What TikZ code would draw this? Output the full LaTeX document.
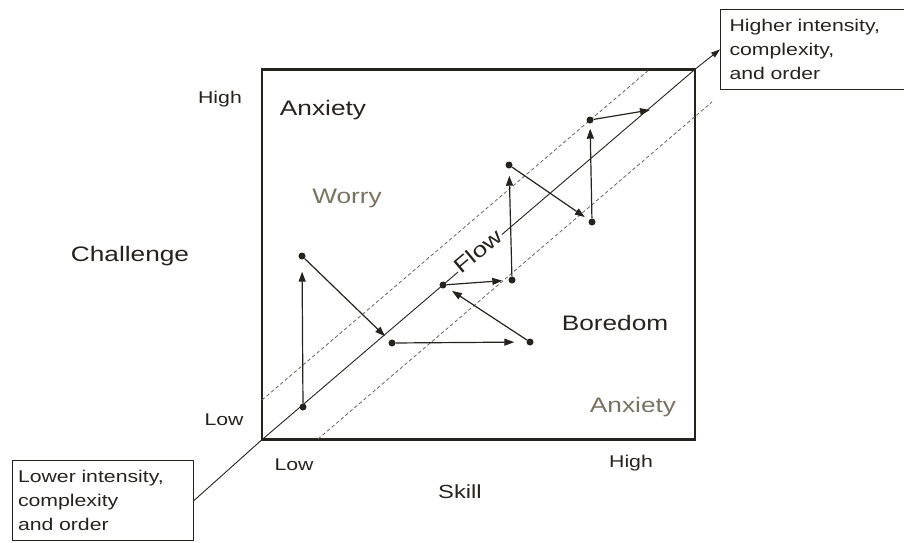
\documentclass[tikz,border=0pt]{standalone}
\usepackage{fontspec}
\setmainfont{Liberation Sans}[FakeStretch=1.25]
\usepackage{tikz}
\usetikzlibrary{positioning,arrows.meta,calc}
\usepackage{xcolor}
\definecolor{ink}{RGB}{38,35,30}
\definecolor{softink}{RGB}{122,114,98}

\begin{document}
\begin{tikzpicture}[
    x=1pt, y=-1pt,
    lbl/.style={font=\fontsize{#1}{#1}\selectfont, text=ink, inner sep=0pt, anchor=base},
    lbl/.default={21},
    zone/.style={font=\fontsize{21}{21}\selectfont, text=#1, inner sep=0pt, anchor=base},
    zone/.default={ink},
    notebox/.style={draw=ink, line width=1pt, align=left, font=\fontsize{17}{24}\selectfont, text=ink, inner sep=5pt, anchor=north west},
    dot/.style={circle, fill=ink, inner sep=0pt, minimum size=7pt},
    arr/.style={-{Triangle[length=10pt,width=7pt]}, draw=ink, line width=1.2pt, shorten >=#1},
    arr/.default={0pt},
    band/.style={draw=ink!70, line width=0.8pt, dash pattern=on 3.5pt off 2.5pt},
]
\useasboundingbox (0,0) rectangle (904,542);

\node[draw=ink, line width=2.4pt, minimum width=433pt, minimum height=370pt, inner sep=0pt] (frame) at (478.5,254.5) {};

% boxes at both ends of the channel
\node[notebox, minimum width=181pt, minimum height=80pt, text width=170pt] (lowbox) at (12,460) {Lower intensity,\\complexity\\and order};
\node[notebox, minimum width=178pt, minimum height=80pt, text width=166pt, inner xsep=9pt] (highbox) at (720,9) {Higher intensity,\\complexity,\\and order};

% axis labels
\node[lbl=17] (chigh) at (220,103) {High};
\node[lbl=17] (clow) at (224,425) {Low};
\node[lbl] (challenge) at (130,261) {Challenge};
\node[lbl=17] (slow) at (294,470) {Low};
\node[lbl=17] (shigh) at (631,467) {High};
\node[lbl=19] (skill) at (460,498) {Skill};

% zones
\node[zone] (anxtop) at (323,115) {Anxiety};
\node[zone=softink] (worry) at (347,203) {Worry};
\node[zone] (boredom) at (615,330) {Boredom};
\node[zone=softink] (anxlow) at (633,412) {Anxiety};

% ===== CHANNEL =====
\coordinate (ua) at (262,400);
\coordinate (ub) at (650,69);
\coordinate (la) at (318,439);
\coordinate (lb) at (712,102);
\draw[band] (ua) -- (ub);
\draw[band] (la) -- (lb);
\draw[-{Triangle[length=9pt,width=6pt]}, draw=ink, line width=0.9pt] (lowbox.east) -- (frame.south west) -- (frame.north east) -- (highbox.west);
\node[font=\fontsize{21}{21}\selectfont, text=ink, rotate=40, fill=white, inner sep=1pt] (flow) at (478,251) {Flow};

% ===== PATH =====
\node[dot] (p1) at (303,407) {};
\node[dot] (p2) at (302,256) {};
\node[dot] (p3) at (392,343) {};
\node[dot] (p4) at (530,342) {};
\node[dot] (p5) at (443,285) {};
\node[dot] (p6) at (512,280) {};
\node[dot] (p7) at (509,165) {};
\node[dot] (p8) at (592,222) {};
\node[dot] (p9) at (590,120) {};
\coordinate (pend) at (650,110);

\draw[arr=12pt] (p1) -- (p2);
\draw[arr=6pt] (p2) -- (p3);
\draw[arr=12pt] (p3) -- (p4);
\draw[arr=7pt] (p4) -- (p5);
\draw[arr=6pt] (p5) -- (p6);
\draw[arr=7pt] (p6) -- (p7);
\draw[arr=5pt] (p7) -- (p8);
\draw[arr=5pt] (p8) -- (p9);
\draw[arr] (p9) -- (pend);

\end{tikzpicture}
\end{document}
